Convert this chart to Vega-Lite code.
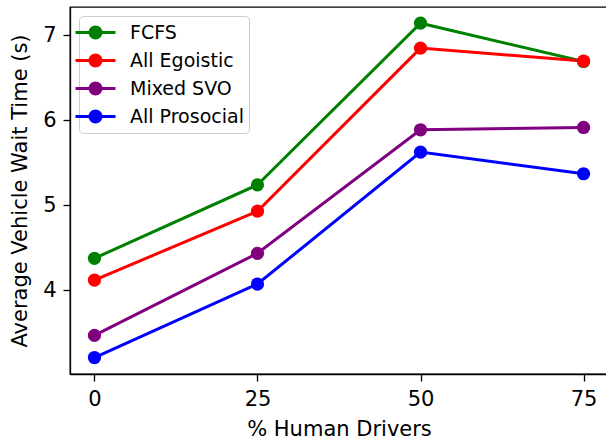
{
  "$schema": "https://vega.github.io/schema/vega-lite/v6.json",
  "autosize": "none",
  "width": 538,
  "height": 367,
  "padding": {"left": 70, "top": 7, "right": 0, "bottom": 67},
  "background": "white",
  "config": {
    "font": "DejaVu Sans",
    "view": {"stroke": "black", "strokeWidth": 1.3},
    "axis": {"grid": false, "domainColor": "black", "tickColor": "black", "labelColor": "black", "titleColor": "black", "labelFontSize": 21, "titleFontSize": 21, "titleFontWeight": "normal", "tickSize": 7, "tickWidth": 1.3, "domainWidth": 1.3, "labelPadding": 7}
  },
  "data": {"values": [
    {"h": 0, "t": 4.376, "s": "FCFS"},
    {"h": 25, "t": 5.24, "s": "FCFS"},
    {"h": 50, "t": 7.14, "s": "FCFS"},
    {"h": 75, "t": 6.69, "s": "FCFS"},
    {"h": 0, "t": 4.12, "s": "All Egoistic"},
    {"h": 25, "t": 4.93, "s": "All Egoistic"},
    {"h": 50, "t": 6.847, "s": "All Egoistic"},
    {"h": 75, "t": 6.695, "s": "All Egoistic"},
    {"h": 0, "t": 3.47, "s": "Mixed SVO"},
    {"h": 25, "t": 4.435, "s": "Mixed SVO"},
    {"h": 50, "t": 5.887, "s": "Mixed SVO"},
    {"h": 75, "t": 5.914, "s": "Mixed SVO"},
    {"h": 0, "t": 3.21, "s": "All Prosocial"},
    {"h": 25, "t": 4.074, "s": "All Prosocial"},
    {"h": 50, "t": 5.625, "s": "All Prosocial"},
    {"h": 75, "t": 5.37, "s": "All Prosocial"}
  ]},
  "encoding": {
    "x": {"field": "h", "type": "quantitative", "scale": {"domain": [-3.75, 78.75], "nice": false, "zero": false},
      "axis": {"values": [0, 25, 50, 75], "title": "% Human Drivers", "titlePadding": 9}},
    "y": {"field": "t", "type": "quantitative", "scale": {"domain": [3.0165, 7.33], "nice": false, "zero": false},
      "axis": {"values": [4, 5, 6, 7], "title": "Average Vehicle Wait Time (s)", "titlePadding": 12}},
    "color": {"field": "s", "type": "nominal",
      "scale": {"domain": ["FCFS", "All Egoistic", "Mixed SVO", "All Prosocial"], "range": ["#008000", "#ff0000", "#800080", "#0000ff"]},
      "legend": {"title": null, "orient": "none", "legendX": 9, "legendY": 9,
        "symbolType": "M-2,0H2M-0.55,0A0.55,0.55 0 1,0 0.55,0A0.55,0.55 0 1,0 -0.55,0Z",
        "symbolSize": 400, "symbolStrokeWidth": 3, "labelFontSize": 19, "labelColor": "black",
        "labelOffset": 23, "rowPadding": 5, "padding": 5, "strokeColor": "#cccccc", "fillColor": "white", "cornerRadius": 4,
        "encode": {"symbols": {"update": {"fill": {"scale": "color", "field": "value"}, "stroke": {"scale": "color", "field": "value"}, "opacity": {"value": 1}}}}}}
  },
  "layer": [
    {"mark": {"type": "line", "strokeWidth": 3}},
    {"mark": {"type": "point", "filled": true, "size": 175, "opacity": 1, "shape": "circle"}}
  ]
}
